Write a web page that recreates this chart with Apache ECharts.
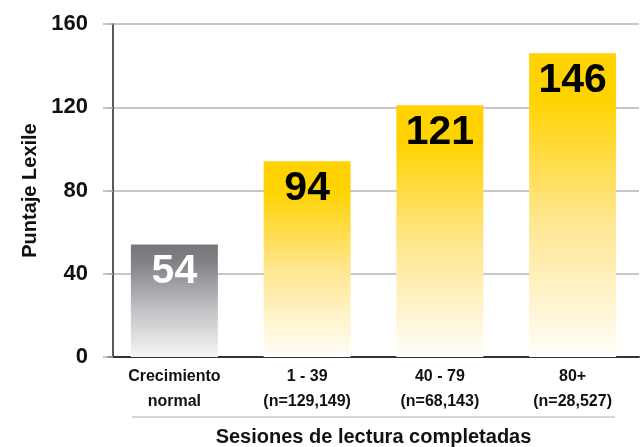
<!DOCTYPE html>
<html>
<head>
<meta charset="utf-8">
<script src="https://cdn.jsdelivr.net/npm/echarts@6/dist/echarts.min.js"></script>
<style>
  html, body { margin: 0; padding: 0; background: #fff; }
  #main { width: 644px; height: 447px; }
</style>
</head>
<body>
<div id="main"></div>
<script>
// datos del gráfico
const categories = ['Crecimiento\nnormal', '1 - 39\n(n=129,149)', '40 - 79\n(n=68,143)', '80+\n(n=28,527)'];
const values = [54, 94, 121, 146];
const yTicks = [0, 40, 80, 120, 160];

const font = '"Liberation Sans", Arial, sans-serif';

// degradado gris para "Crecimiento normal", amarillo para las sesiones
const grayFill = new echarts.graphic.LinearGradient(0, 0, 0, 1, [
    { offset: 0, color: '#75767a' },
    { offset: 0.15, color: '#808185' },
    { offset: 0.6, color: '#c4c5c8' },
    { offset: 1, color: '#f5f5f5' }
]);
const yellowFill = new echarts.graphic.LinearGradient(0, 0, 0, 1, [
    { offset: 0, color: '#ffd200' },
    { offset: 0.15, color: '#ffd300' },
    { offset: 0.55, color: '#ffe68f' },
    { offset: 1, color: '#fffefa' }
]);

const chart = echarts.init(document.getElementById('main'));

const option = {
    animation: false,
    textStyle: { fontFamily: font },
    grid: { left: 108, right: 5, top: 24, bottom: 90, outerBoundsMode: 'none', containLabel: false },
    xAxis: {
        type: 'category',
        data: categories,
        name: 'Sesiones de lectura completadas',
        nameLocation: 'middle',
        nameGap: 70,
        nameTextStyle: { fontSize: 20, fontWeight: 'bold', color: '#111', fontFamily: font },
        axisLine: { lineStyle: { color: '#333', width: 2 } },
        axisTick: { show: false },
        axisLabel: {
            margin: 7,
            fontSize: 16,
            fontWeight: 'bold',
            lineHeight: 25,
            color: '#111',
            fontFamily: font
        }
    },
    yAxis: {
        type: 'value',
        min: yTicks[0],
        max: yTicks[yTicks.length - 1],
        interval: 40,
        offset: -5,
        name: 'Puntaje Lexile',
        nameLocation: 'middle',
        nameGap: 73,
        nameTextStyle: { fontSize: 20, fontWeight: 'bold', color: '#111', fontFamily: font },
        axisLine: { show: true, lineStyle: { color: '#222', width: 1.5 } },
        axisTick: { show: true, length: 10, lineStyle: { color: '#b5b5b5', width: 1.5 } },
        splitLine: { show: true, lineStyle: { color: '#b5b5b5', width: 1.5 } },
        axisLabel: {
            margin: 25,
            fontSize: 22,
            fontWeight: 'bold',
            color: '#111',
            fontFamily: font
        }
    },
    graphic: [{
        type: 'line',
        shape: { x1: 132, y1: 417, x2: 615, y2: 417 },
        style: { stroke: '#c8c8c8', lineWidth: 1.5 },
        silent: true
    }],
    series: [{
        type: 'bar',
        barWidth: 87,
        data: values.map((v, i) => ({
            value: v,
            itemStyle: { color: i === 0 ? grayFill : yellowFill },
            label: { color: i === 0 ? '#fff' : '#000' }
        })),
        label: {
            show: true,
            position: 'insideTop',
            distance: 7,
            fontSize: 41,
            fontWeight: 'bold',
            fontFamily: font
        }
    }]
};

chart.setOption(option);
</script>
</body>
</html>
